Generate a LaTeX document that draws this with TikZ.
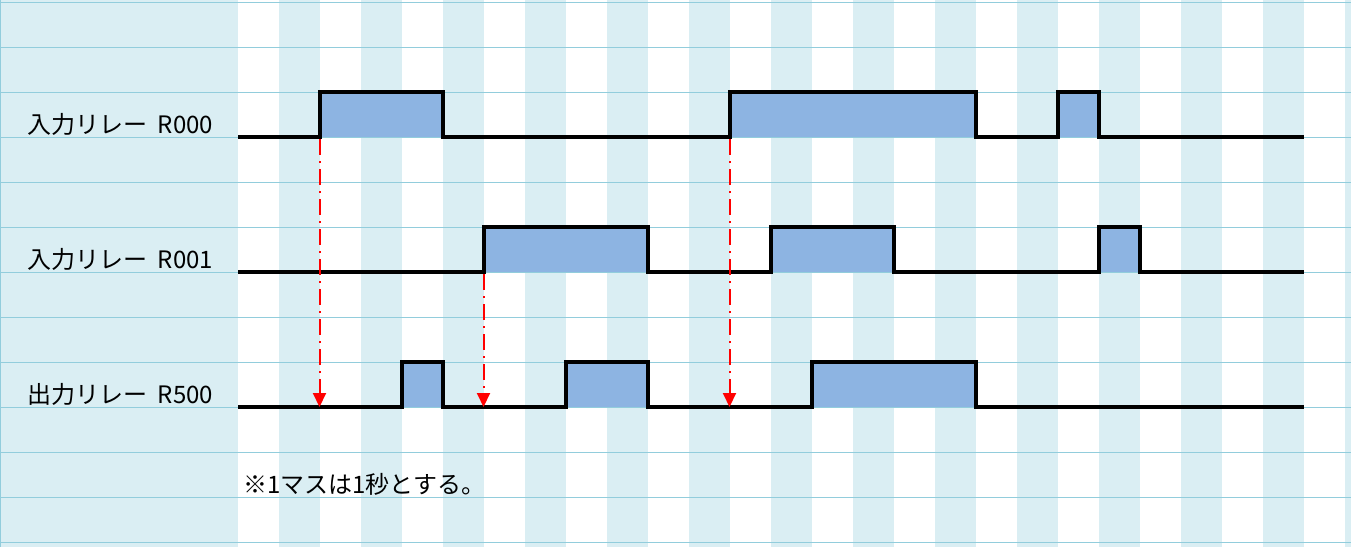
\documentclass[tikz,border=0pt]{standalone}
\usepackage{fontspec}
\usepackage{tikz}
\usetikzlibrary{arrows.meta, positioning}
\newfontfamily\jpfont{Noto Sans CJK JP}
\definecolor{gridBlue}{HTML}{DAEEF3}
\definecolor{ruleBlue}{HTML}{92CDDC}
\definecolor{pulseBlue}{HTML}{8DB4E2}
\definecolor{traceRed}{HTML}{FF0000}

\begin{document}
\begin{tikzpicture}[
    x=1pt, y=-1pt,
    rowname/.style={anchor=base west, inner sep=0pt, font=\jpfont\fontsize{24}{24}\selectfont},
    signal/.style={line width=3.2pt, line join=miter},
    pulse/.style={fill=pulseBlue},
    trace/.style={traceRed, line width=2pt, dash pattern=on 16pt off 6pt on 2pt off 6pt, -{Triangle[length=14pt,width=13pt]}},
]
    \useasboundingbox (0,0) rectangle (1351,547);
    % background sheet
    \fill[gridBlue] (0,0) rectangle (238,547);
    \foreach \k in {1,3,...,27}
        \fill[gridBlue] ({238+41*\k},0) rectangle ({min(238+41*(\k+1),1351)},547);
    \foreach \j in {0,...,12}
        \draw[ruleBlue, line width=1pt] (0,{2.5+45*\j}) -- (1351,{2.5+45*\j});
    \draw[ruleBlue, line width=1pt] (0.5,0) -- (0.5,547);

    % row names
    \node[rowname] (r000) at (27,133) {入力リレー\hspace{0.45em}R000};
    \node[rowname] (r001) at (27,268) {入力リレー\hspace{0.45em}R001};
    \node[rowname] (r500) at (27,403) {出力リレー\hspace{0.45em}R500};
    \node[rowname] (note) at (243,493) {※1マスは1秒とする。};

    % pulses
    \foreach \a/\b/\hi in {320/443/92, 730/976/92, 1058/1099/92,
                           484/648/227, 771/894/227, 1099/1140/227,
                           402/443/362, 566/648/362, 812/976/362}
        \fill[pulse] (\a,\hi) rectangle (\b,\hi+45);

    % waveforms
    \draw[signal] (238,137) -- (320,137) -- (320,92) -- (443,92) -- (443,137) -- (730,137) -- (730,92)
        -- (976,92) -- (976,137) -- (1058,137) -- (1058,92) -- (1099,92) -- (1099,137) -- (1304,137);
    \draw[signal] (238,272) -- (484,272) -- (484,227) -- (648,227) -- (648,272) -- (771,272) -- (771,227)
        -- (894,227) -- (894,272) -- (1099,272) -- (1099,227) -- (1140,227) -- (1140,272) -- (1304,272);
    \draw[signal] (238,407) -- (402,407) -- (402,362) -- (443,362) -- (443,407) -- (566,407) -- (566,362)
        -- (648,362) -- (648,407) -- (812,407) -- (812,362) -- (976,362) -- (976,407) -- (1304,407);

    % trigger edges
    \coordinate (on000a) at (319.5,139);
    \coordinate (on001a) at (483.5,274);
    \coordinate (on000b) at (729.5,139);
    \coordinate (out1) at (319.5,407);
    \coordinate (out2) at (483.5,407);
    \coordinate (out3) at (729.5,407);
    \draw[trace] (on000a) -- (out1);
    \draw[trace] (on001a) -- (out2);
    \draw[trace] (on000b) -- (out3);
\end{tikzpicture}
\end{document}
